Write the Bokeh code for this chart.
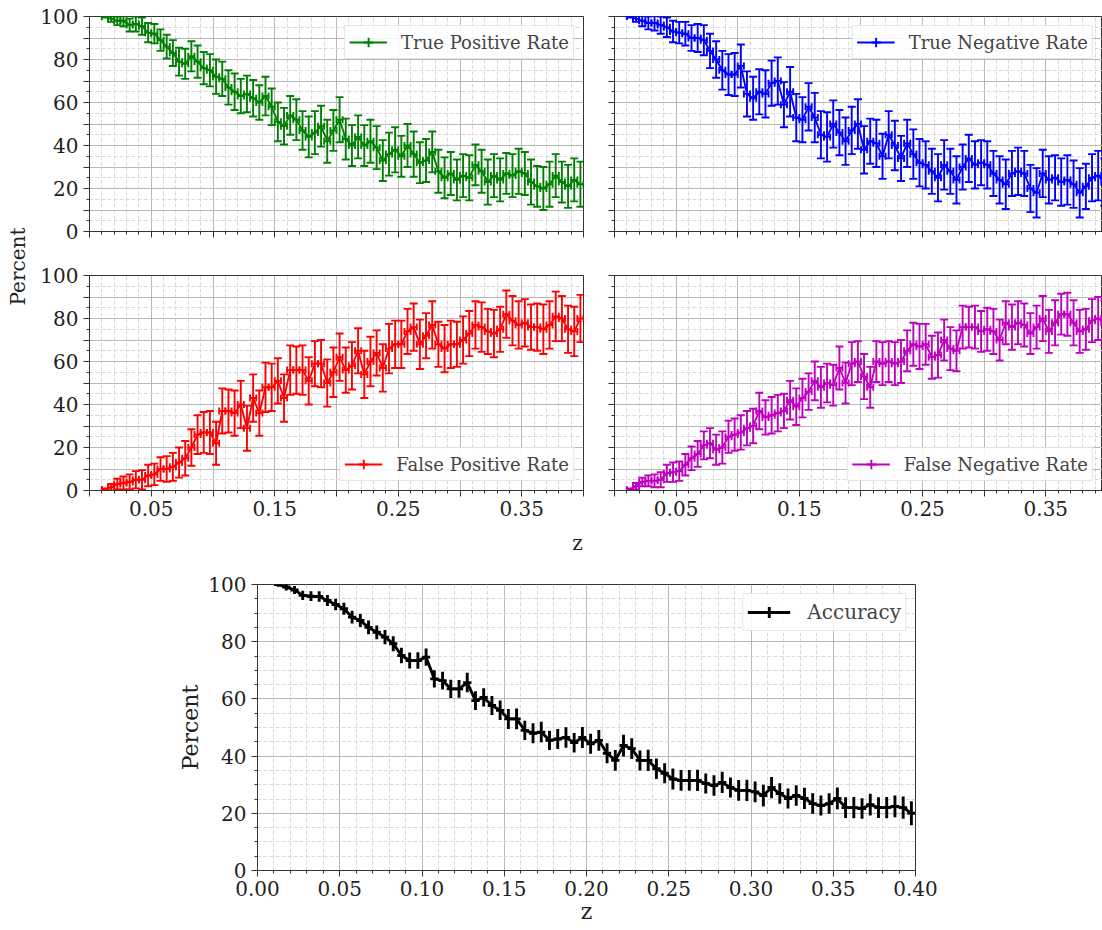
import numpy as np
from bokeh.plotting import figure
from bokeh.models import (ColumnDataSource, Whisker, TeeHead, FixedTicker,
                          CustomJSTickFormatter, Legend, LegendItem, Range1d, Spacer)
from bokeh.layouts import row, column
from bokeh.embed import file_html
from bokeh.resources import INLINE
from bokeh.core.properties import value

FONT = "DejaVu Serif"

# ---------------- data ----------------
# all panels: bins of width 0.005, centres 0.0125 ... 0.3975
tpr = [100, 99, 98, 98,
       96, 96.5, 95.5, 92.5,
       92, 89, 86, 83,
       79, 78, 81.5, 79,
       76, 75, 72, 71,
       67, 65, 63, 64,
       62, 60, 63, 58,
       51, 49, 54, 52,
       47, 44, 46, 49,
       42, 47, 52, 43,
       40, 44, 40, 42,
       39, 33, 36, 38,
       35, 40, 36, 32,
       33, 37, 28, 25,
       27, 24, 26, 25,
       31, 28, 23, 26,
       24, 27, 26, 28,
       27, 23, 21, 20,
       22, 26, 23, 21,
       24, 22]
fnr = [0.5, 2, 4, 4.5,
       4.5, 5, 8, 8.5,
       9, 12, 15, 17,
       21, 22, 19, 20,
       25, 26, 27, 29,
       30, 37, 34, 35,
       36, 37, 42, 39,
       43, 46, 51, 48,
       50, 49, 57, 50,
       59, 60, 53, 48,
       60, 59, 60, 59,
       60, 65, 68, 67,
       68, 62, 63, 70,
       66, 65, 76, 76,
       76, 74, 75, 74,
       70, 78, 76, 78,
       77, 73, 76, 80,
       74, 78, 82, 82,
       78, 74, 75, 79,
       80, 78]
err_pos = [0.5, 1.5, 2, 2.5,
           3, 3.5, 4, 4.5,
           4.5, 5, 5.5, 6,
           6.5, 7, 7, 7.5,
           7.5, 7.5, 8, 8,
           8, 8.5, 8, 8.5,
           8.5, 8, 9, 8.5,
           9, 8.5, 9, 9.5,
           9, 9.5, 10, 9.5,
           10, 9.5, 10.5, 9.5,
           9.5, 10, 9.5, 10,
           10, 9.5, 10, 10.5,
           9.5, 10, 10.5, 9.5,
           10, 9.5, 10, 9.5,
           10, 9.5, 10, 10.5,
           9.5, 10, 10.5, 10,
           10, 9.5, 10, 10.5,
           10, 10.5, 9.5, 10,
           10.5, 10, 9.5, 10,
           10, 10.5]
tnr = [100, 99, 98, 97,
       97, 96, 95, 93,
       92.5, 92, 90, 90,
       89, 84, 80, 75,
       73, 73, 77, 64,
       62, 65, 64, 69,
       70, 59, 65, 53,
       52, 58, 53, 45,
       44, 50, 46, 42,
       47, 50, 38, 42,
       41, 35, 45, 40,
       34, 41, 36, 32,
       31, 28, 25, 31,
       28, 24, 30, 34,
       31, 32, 31, 27,
       24, 22, 27, 28,
       27, 20, 18, 27,
       24, 25, 23, 24,
       22, 18, 21, 25,
       26, 23]
fpr = [0.5, 1.5, 3, 3.5,
       4, 5, 5, 7,
       7.5, 10, 10, 11,
       13, 15, 20, 26,
       27, 27, 22, 37,
       37, 36, 40, 29,
       43, 36, 48, 48,
       51, 43, 56, 56,
       56, 51, 59, 59,
       50, 55, 62, 56,
       58, 65, 54, 60,
       64, 57, 66, 68,
       68, 74, 76, 68,
       72, 77, 68, 66,
       68, 68, 70, 73,
       77, 76, 74, 73,
       75, 82, 79, 77,
       78, 76, 76, 75,
       77, 81, 80, 75,
       74, 80]
err_neg = [0.5, 1.5, 2.5, 3,
           3.5, 4, 4.5, 5,
           5, 5.5, 6, 6.5,
           7, 8, 8.5, 9,
           9.5, 10, 10, 10.5,
           10, 10.5, 11, 10.5,
           11, 10.5, 11.5, 11,
           10.5, 11, 11.5, 11,
           11.5, 11, 10.5, 11,
           11, 11.5, 11, 10.5,
           11, 10.5, 11, 11.5,
           10.5, 11, 11.5, 11,
           11, 10.5, 11, 11.5,
           10.5, 11, 10.5, 11,
           11, 10.5, 11, 10.5,
           11, 11.5, 10.5, 11,
           10.5, 11, 11.5, 11,
           11, 10.5, 11, 11.5,
           11, 11.5, 10.5, 11,
           11.5, 11]

acc = [100, 99.1, 98.1, 96.2, 95.9, 95.8, 94.4, 93, 91.5, 88.6,
       87.4, 85, 83.3, 81.6, 79.3, 75.2, 73.4, 73.4, 74.6, 67,
       66.4, 63.5, 63.5, 65.7, 59.4, 60.5, 57.7, 56, 53, 53,
       49, 48, 48.4, 45.5, 46, 46.5, 44.7, 46.5, 44.3, 45.5,
       41, 38.5, 43.7, 42.6, 38.5, 38.5, 35.6, 34, 32, 31.5,
       31.5, 31.5, 30.4, 29.7, 30.8, 29, 28, 28, 27.5, 26.2,
       29, 26.9, 25.2, 26.2, 25.2, 23.4, 22.7, 23.4, 25.2, 22,
       22, 21.7, 23, 22, 22, 22.4, 22, 20]
acc_err = [0.8, 1.2, 1.4, 1.6, 1.7, 1.8, 1.9, 2.0, 2.1, 2.2,
           2.3, 2.4, 2.4, 2.5, 2.6, 2.7, 2.8, 2.9, 3.0, 3.0,
           3.1, 3.2, 3.1, 3.4, 3.3, 3.2, 3.3, 3.4, 3.5, 3.6,
           3.4, 3.5, 3.6, 3.4, 3.5, 3.6, 3.4, 3.7, 3.5, 3.6,
           3.5, 3.6, 3.8, 3.6, 3.5, 3.7, 3.6, 3.5, 3.7, 3.6,
           3.6, 3.7, 3.5, 3.6, 3.7, 3.5, 3.6, 3.7, 3.6, 3.8,
           3.7, 3.6, 3.5, 3.6, 3.7, 3.6, 3.5, 3.6, 3.8, 3.6,
           3.7, 3.6, 3.8, 3.6, 3.7, 3.8, 3.9, 4.2]

series_labels = ["True Positive Rate", "True Negative Rate",
                 "False Positive Rate", "False Negative Rate"]
HALF_BIN = 0.0025
z_bins = 0.0125 + 0.005 * np.arange(len(acc))


def style(p, xticks, xminor, yticks, yminor, xfmt, yfmt, font_size="20px"):
    xt = FixedTicker(ticks=xticks, minor_ticks=xminor)
    yt = FixedTicker(ticks=yticks, minor_ticks=yminor)
    p.xaxis.ticker = xt
    p.yaxis.ticker = yt
    p.xgrid.ticker = xt
    p.ygrid.ticker = yt
    p.xaxis.formatter = CustomJSTickFormatter(code=xfmt)
    p.yaxis.formatter = CustomJSTickFormatter(code=yfmt)
    for ax in p.axis:
        ax.axis_line_color = "#333333"
        ax.major_tick_line_color = "#333333"
        ax.minor_tick_line_color = "#333333"
        ax.major_tick_out = 6
        ax.major_tick_in = 0
        ax.minor_tick_out = 3
        ax.minor_tick_in = 0
        ax.major_label_text_font = FONT
        ax.major_label_text_font_size = font_size
        ax.major_label_text_color = "#222222"
    p.xaxis.major_label_standoff = 4
    p.yaxis.major_label_standoff = 5
    for g in (p.xgrid, p.ygrid):
        g.grid_line_color = "#b9b9b9"
        g.grid_line_width = 1
        g.minor_grid_line_color = "#d9d9d9"
        g.minor_grid_line_dash = "4 2"
        g.minor_grid_line_width = 1
    p.outline_line_color = "#333333"
    p.outline_line_width = 1
    p.background_fill_color = "white"


def add_legend(p, rends, label, loc, fs, gw, gh, standoff, pad):
    leg = Legend(items=[LegendItem(label=label, renderers=rends)], location=loc,
                 label_text_font=FONT, label_text_font_size=fs,
                 glyph_width=gw, glyph_height=gh, label_standoff=standoff,
                 padding=pad, margin=9, spacing=0,
                 border_line_color="#cccccc", border_line_width=1,
                 background_fill_color="white", background_fill_alpha=0.85)
    p.add_layout(leg)


TOP_X = [0, 0.05, 0.1, 0.15, 0.2, 0.25, 0.3, 0.35, 0.4]
TOP_XMIN = [i / 100 for i in range(41) if i % 5 != 0]
TOP_Y = list(range(0, 101, 10))
TOP_YMIN = list(range(5, 100, 10))
FMT_X_LAB = "const k = Math.round(tick*100); return (k % 10 === 5) ? tick.toFixed(2) : '';"
FMT_Y_LAB = "return (Math.round(tick) % 20 === 0) ? tick.toFixed(0) : '';"
FMT_NONE = "return '';"


def panel(vals, errs, color, label, loc, xlab, ylab, right_col, bottom_row):
    x_end = 0.396 if right_col else 0.4
    width = 509 if right_col else 561
    height = 277 if bottom_row else 253
    p = figure(width=width, height=height, x_range=Range1d(0, x_end),
               y_range=Range1d(0, 100), toolbar_location=None,
               output_backend="svg",
               min_border_left=21 if right_col else 57,
               min_border_right=0 if right_col else 10,
               min_border_top=22 if bottom_row else 16,
               min_border_bottom=40 if bottom_row else 22)
    style(p, TOP_X, TOP_XMIN, TOP_Y, TOP_YMIN,
          FMT_X_LAB if xlab else FMT_NONE, FMT_Y_LAB if ylab else FMT_NONE)
    v = np.array(vals, dtype=float)
    e = np.array(errs, dtype=float)
    src = ColumnDataSource(dict(z=z_bins, v=v, up=v + e, lo=v - e,
                                zl=z_bins - HALF_BIN, zr=z_bins + HALF_BIN))
    lw = 1.9
    wy = Whisker(source=src, base="z", upper="up", lower="lo", dimension="height",
                 line_color=color, line_width=lw,
                 upper_head=TeeHead(size=8, line_color=color, line_width=lw),
                 lower_head=TeeHead(size=8, line_color=color, line_width=lw))
    wx = Whisker(source=src, base="v", upper="zr", lower="zl", dimension="width",
                 line_color=color, line_width=lw,
                 upper_head=TeeHead(size=7, line_color=color, line_width=lw),
                 lower_head=TeeHead(size=7, line_color=color, line_width=lw))
    p.add_layout(wy)
    p.add_layout(wx)
    ln = p.line("z", "v", source=src, line_color=color, line_width=lw)
    # legend proxy (not visible in the plot area)
    mk = p.scatter(x=[np.nan], y=[np.nan], marker="cross", line_color=color,
                   line_width=lw)
    add_legend(p, [ln, mk], label, loc, "18px", 38, 24, 14, 4)
    return p


tl = panel(tpr, err_pos, "#008000", series_labels[0], "top_right", False, True, False, False)
tr = panel(tnr, err_neg, "#0000ff", series_labels[1], "top_right", False, False, True, False)
bl = panel(fpr, err_neg, "#ff0000", series_labels[2], "bottom_right", True, True, False, True)
br = panel(fnr, err_pos, "#bf00bf", series_labels[3], "bottom_right", True, False, True, True)

# shared labels of the 2x2 block
pct = figure(width=32, height=530, x_range=Range1d(0, 32), y_range=Range1d(530, 0),
             x_axis_type=None, y_axis_type=None, toolbar_location=None,
             output_backend="svg", min_border=0, outline_line_color=None)
pct.text(x=[17.5], y=[266], text=["Percent"], angle=np.pi / 2, text_align="center",
         text_baseline="middle", text_font=value(FONT), text_font_size="20px",
         text_color="#222222")

zf = figure(width=1102, height=25, x_range=Range1d(0, 1102), y_range=Range1d(25, 0),
            x_axis_type=None, y_axis_type=None, toolbar_location=None,
            output_backend="svg", min_border=0, outline_line_color=None)
zf.text(x=[577], y=[12], text=["z"], text_align="center", text_baseline="middle",
        text_font=value(FONT), text_font_size="20px", text_color="#222222")

# accuracy panel
pa = figure(width=778, height=375, x_range=Range1d(0, 0.4), y_range=Range1d(0, 100),
            toolbar_location=None, output_backend="svg",
            min_border_left=90, min_border_right=30, min_border_top=29,
            min_border_bottom=60)
style(pa, TOP_X, TOP_XMIN, list(range(0, 101, 20)),
      [i for i in range(5, 100, 5) if i % 20 != 0],
      "return tick.toFixed(2);", "return tick.toFixed(0);")
pa.xaxis.axis_label = "z"
pa.yaxis.axis_label = "Percent"
for ax in pa.axis:
    ax.axis_label_text_font = FONT
    ax.axis_label_text_font_size = "22px"
    ax.axis_label_text_font_style = "normal"
    ax.axis_label_text_color = "#222222"
    ax.axis_label_standoff = 2
pa.xaxis.axis_label_standoff = 0
a = np.array(acc, dtype=float)
ae = np.array(acc_err, dtype=float)
asrc = ColumnDataSource(dict(z=z_bins, v=a, up=a + ae, lo=a - ae,
                             zl=z_bins - HALF_BIN, zr=z_bins + HALF_BIN))
pa.add_layout(Whisker(source=asrc, base="z", upper="up", lower="lo",
                      dimension="height", line_color="black", line_width=2.9,
                      upper_head=None, lower_head=None))
pa.add_layout(Whisker(source=asrc, base="v", upper="zr", lower="zl",
                      dimension="width", line_color="black", line_width=2.9,
                      upper_head=None, lower_head=None))
aln = pa.line("z", "v", source=asrc, line_color="black", line_width=2.9)
amk = pa.scatter(x=[np.nan], y=[np.nan], marker="cross", line_color="black",
                 line_width=2.9)
add_legend(pa, [aln, amk], "Accuracy", "top_right", "20px", 43, 28, 17, 4)

layout = column(
    row(pct, column(row(tl, tr), row(bl, br))),
    zf,
    row(Spacer(width=167, height=375), pa),
)

open("out.html", "w").write(file_html(layout, INLINE))
